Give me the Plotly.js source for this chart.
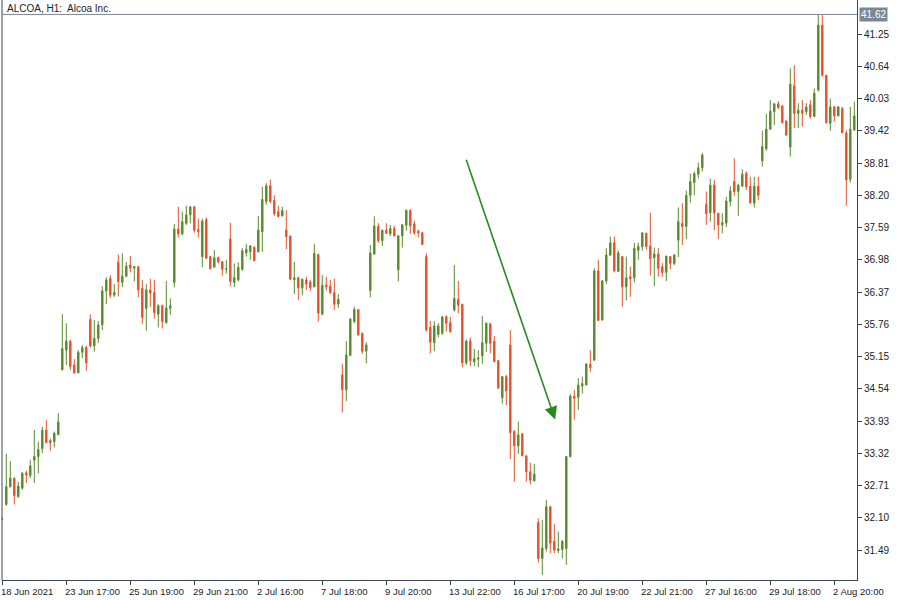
<!DOCTYPE html>
<html>
<head>
<meta charset="utf-8">
<script src="https://cdn.plot.ly/plotly-3.0.1.min.js"></script>
<style>html,body{margin:0;padding:0;background:#fff;}#chart{width:900px;height:600px;}</style>
</head>
<body>
<div id="chart"></div>
<script>
// OHLC values (H1 bars, Alcoa Inc.)
const opens = [32.08,32.35,32.69,32.85,32.50,32.66,32.95,32.90,33.19,33.26,33.41,33.76,33.56,33.54,33.67,
34.90,35.27,35.44,34.99,34.84,35.23,35.32,35.85,35.35,35.49,35.75,36.39,36.63,36.31,36.93,36.55,36.67,36.88,36.82,36.85,36.44,36.06,
36.41,36.36,35.95,36.11,35.79,36.06,36.55,37.56,37.47,37.67,37.83,37.98,37.55,37.04,37.74,37.04,36.84,37.02,36.94,36.80,37.37,36.55,36.60,36.80,37.11,37.13,37.21,37.13,37.51,38.08,38.38,38.10,37.89,37.81,37.54,
37.43,36.60,36.64,36.45,36.60,36.56,36.47,37.08,35.95,36.50,36.48,36.36,36.14,34.80,34.52,35.17,35.81,36.04,35.59,35.25,36.40,37.09,37.61,37.34,37.54,37.47,37.57,36.79,37.43,37.63,37.91,37.66,37.52,37.49,37.04,
35.70,35.41,35.57,35.59,35.90,35.79,36.03,36.23,36.14,35.03,35.44,35.05,35.10,35.16,35.40,35.77,35.44,35.07,34.37,34.77,35.37,33.73,33.46,33.69,33.27,32.97,32.80,32.01,31.33,31.52,32.31,31.65,31.48,31.50,31.52,
33.26,34.40,34.38,34.59,34.61,35.00,35.08,36.77,35.84,36.58,37.07,37.30,36.76,37.04,36.47,36.66,36.64,37.16,37.23,37.48,37.24,37.02,37.09,36.85,36.74,37.04,36.91,37.35,37.67,37.61,38.20,38.44,38.60,38.72,38.03,
37.87,38.39,37.86,37.64,37.67,38.08,38.46,38.27,38.37,38.61,38.37,38.05,38.37,38.85,39.08,39.45,39.78,39.93,39.89,39.60,39.11,40.27,39.75,39.81,39.78,39.91,39.69,40.19,41.42,40.47,39.56,39.87,39.70,39.84,39.38,38.50,39.43];
const highs = [32.10,33.31,33.17,32.86,32.78,32.97,32.99,33.19,33.76,33.54,33.82,33.95,33.60,33.73,34.08,
35.95,35.78,35.47,35.10,35.27,35.37,35.35,35.95,35.84,35.82,36.48,36.65,36.69,36.52,37.08,37.10,36.94,37.05,36.86,36.86,36.60,36.52,
36.62,36.60,36.14,36.13,36.58,36.25,37.66,37.98,37.89,38.00,38.00,38.00,37.76,37.76,37.78,37.05,37.16,37.04,36.96,36.98,37.68,36.91,36.93,37.20,37.28,37.26,37.24,37.81,38.36,38.43,38.50,38.20,38.00,37.98,37.92,
37.43,36.94,36.66,36.63,36.66,36.60,37.28,37.08,36.69,36.66,36.60,36.62,36.33,35.01,35.44,35.87,36.09,36.04,35.60,35.42,37.26,37.80,37.67,37.55,37.67,37.64,37.62,37.45,37.66,37.92,37.94,37.72,37.55,37.51,37.10,
35.82,35.82,35.78,35.92,35.93,35.90,36.88,36.58,36.14,35.47,35.51,35.29,35.27,35.92,35.79,35.78,35.54,35.08,34.77,34.80,35.65,33.76,33.92,33.69,33.29,33.14,33.12,32.09,32.06,32.44,32.31,31.98,31.84,31.68,33.26,
34.44,34.52,34.74,34.77,35.02,35.27,36.82,36.98,36.60,37.20,37.42,37.42,37.16,37.04,37.04,36.85,37.30,37.30,37.49,37.49,37.87,37.21,37.20,36.92,37.05,37.04,37.09,37.97,38.05,38.29,38.61,38.65,38.82,39.00,38.27,
38.51,38.49,37.86,37.86,38.17,38.37,38.90,38.42,38.69,38.65,38.55,38.55,38.55,39.42,39.74,40.00,39.94,39.98,39.91,39.62,40.60,40.66,39.94,40.00,39.94,40.00,40.22,41.62,41.62,40.47,40.03,39.89,39.89,39.87,39.43,39.87,39.97];
const lows = [32.05,32.33,32.67,32.35,32.48,32.63,32.76,32.85,32.76,32.94,33.32,33.52,33.37,33.43,33.67,
34.89,34.99,34.89,34.83,34.84,35.12,34.88,35.32,35.24,35.41,35.65,36.14,36.26,36.28,36.29,36.46,36.65,36.74,36.57,36.27,35.77,35.64,
36.09,35.87,35.70,35.68,35.77,35.94,36.46,37.40,37.44,37.64,37.67,37.49,37.40,36.84,37.00,36.80,36.84,36.91,36.68,36.72,36.48,36.46,36.57,36.77,37.04,36.98,36.96,37.12,37.13,38.02,38.05,37.81,37.78,37.80,37.18,
36.61,36.33,36.22,36.31,36.41,36.39,36.46,35.81,35.93,36.40,36.33,36.03,36.07,34.09,34.31,35.16,35.78,35.54,35.20,35.02,36.27,37.07,37.30,37.24,37.47,37.43,37.43,36.57,37.21,37.53,37.47,37.45,37.40,37.26,35.62,
35.21,35.25,35.51,35.56,35.62,35.60,36.00,35.97,34.95,34.99,34.97,34.97,34.95,35.01,35.24,35.21,35.05,34.55,34.26,34.23,33.21,32.78,33.31,33.27,32.78,32.73,32.78,31.25,31.02,31.46,31.43,31.43,31.43,31.33,31.21,
33.24,33.95,34.14,34.45,34.61,34.86,35.07,35.83,35.83,36.52,37.05,36.74,36.76,36.09,36.21,36.28,36.55,36.98,37.15,37.17,36.68,36.48,36.66,36.66,36.58,36.80,36.88,37.03,37.26,37.37,38.06,38.20,38.52,38.65,37.64,
37.70,37.54,37.37,37.48,37.60,37.99,38.19,37.81,38.36,38.30,38.03,37.97,38.11,38.74,39.04,39.45,39.53,39.83,39.56,39.32,38.93,39.47,39.47,39.50,39.72,39.65,39.69,40.16,40.44,39.56,39.42,39.59,39.70,39.38,38.00,38.44,39.43];
const closes = [32.08,32.69,32.85,32.52,32.70,32.94,32.91,33.08,33.26,33.39,33.75,33.52,33.52,33.70,33.91,
35.30,35.44,34.96,34.84,35.23,35.32,35.03,35.35,35.49,35.75,36.39,36.60,36.31,36.36,36.57,36.67,36.86,36.82,36.85,36.41,35.89,36.41,
36.35,35.98,36.11,35.81,36.07,36.11,37.56,37.47,37.70,37.83,37.98,37.54,37.51,37.71,37.01,36.81,37.02,36.94,36.80,36.81,36.57,36.64,36.84,37.15,37.18,37.24,36.96,37.54,38.12,38.38,38.08,37.85,37.80,37.91,37.42,
36.61,36.64,36.45,36.61,36.52,36.45,37.10,35.97,36.50,36.47,36.36,36.14,36.23,34.52,35.18,35.86,36.04,35.56,35.25,35.37,37.11,37.62,37.34,37.54,37.48,37.57,37.43,37.43,37.64,37.92,37.62,37.49,37.49,37.27,35.65,
35.42,35.73,35.73,35.90,35.78,35.62,36.25,36.12,35.03,35.44,35.07,35.11,35.12,35.41,35.78,35.40,35.05,34.55,34.77,34.50,33.71,33.46,33.67,33.27,32.97,32.81,32.93,31.33,31.53,32.31,31.62,31.49,31.51,31.65,33.26,
34.40,34.36,34.61,34.64,35.01,34.94,36.77,35.83,36.58,37.07,37.30,36.77,37.11,36.47,36.64,36.62,37.20,37.23,37.49,37.23,37.00,37.09,36.82,36.74,37.05,36.91,37.07,37.70,37.61,38.20,38.46,38.61,38.72,38.96,37.85,
38.39,37.87,37.64,37.68,38.09,38.28,38.27,38.39,38.60,38.36,38.06,38.37,38.20,39.12,39.45,39.79,39.93,39.86,39.57,39.34,40.30,39.75,39.81,39.75,39.87,39.69,40.13,41.42,40.47,39.57,39.87,39.70,39.87,39.38,38.49,39.45,39.70];

// Axis labels
const timeLabels = ['18 Jun 2021','23 Jun 17:00','25 Jun 19:00','29 Jun 21:00','2 Jul 16:00','7 Jul 18:00','9 Jul 20:00',
  '13 Jul 22:00','16 Jul 17:00','20 Jul 19:00','22 Jul 21:00','27 Jul 16:00','29 Jul 18:00','2 Aug 20:00'];
const labelEvery = 16;
const priceTicks = [31.49,32.10,32.71,33.32,33.93,34.54,35.15,35.76,36.37,36.98,37.59,38.20,38.81,39.42,40.03,40.64,41.25];
const lastPrice = 41.62;
// Trend arrow drawn on the chart: [bar index, price]
const arrowFrom = [115.85, 38.90];
const arrowTo = [138.2, 33.96];

const GREEN = '#5b8c2e', RED = '#e8522d', FRAME = '#3a4752', TXT = '#222';
const FONT = 'Liberation Sans, Arial';
const idx = opens.map((_, i) => i);
const tickIdx = timeLabels.map((_, k) => k * labelEvery);

const trace = {
  type: 'candlestick', x: idx, open: opens, high: highs, low: lows, close: closes,
  increasing: {line: {color: GREEN, width: 1}, fillcolor: GREEN},
  decreasing: {line: {color: RED, width: 1}, fillcolor: RED},
  whiskerwidth: 0, hoverinfo: 'skip', showlegend: false
};

const annotations = timeLabels.map((t, k) => ({
  text: t, x: tickIdx[k], xref: 'x', y: 0, yref: 'paper', xanchor: 'left', yanchor: 'top',
  yshift: -4, xshift: -3, showarrow: false, font: {family: FONT, size: 9.5, color: TXT}
}));
annotations.push({
  text: 'ALCOA, H1:  Alcoa Inc.', xref: 'paper', yref: 'paper', x: 0, y: 1, xanchor: 'left', yanchor: 'top',
  xshift: 3, yshift: -1, showarrow: false, font: {family: FONT, size: 10, color: TXT}
});
annotations.push({
  text: lastPrice.toFixed(2), xref: 'paper', yref: 'y', x: 1, y: lastPrice, xanchor: 'left', yanchor: 'middle',
  xshift: 2, showarrow: false, bgcolor: '#7a8894', borderpad: 1,
  font: {family: FONT, size: 10, color: '#ffffff'}
});
annotations.push({
  x: arrowTo[0], y: arrowTo[1], ax: arrowFrom[0], ay: arrowFrom[1], xref: 'x', yref: 'y', axref: 'x', ayref: 'y',
  showarrow: true, arrowhead: 2, arrowsize: 1.6, arrowwidth: 1.6, arrowcolor: '#2a8a22', text: ''
});

const layout = {
  width: 900, height: 600, paper_bgcolor: '#ffffff', plot_bgcolor: '#ffffff',
  margin: {l: 2, r: 43, t: 0, b: 20},
  showlegend: false,
  xaxis: {
    range: [-0.075, 213.675], rangeslider: {visible: false}, showgrid: false, zeroline: false,
    showline: true, linecolor: FRAME, linewidth: 1,
    tickvals: tickIdx, ticktext: tickIdx.map(() => ''), ticks: 'outside', ticklen: 4, tickcolor: FRAME
  },
  yaxis: {
    side: 'right', range: [30.923, 41.893], showgrid: false, zeroline: false,
    showline: true, linecolor: FRAME, linewidth: 1,
    tickvals: priceTicks, ticktext: priceTicks.map(v => v.toFixed(2)), ticks: 'outside', ticklen: 4, tickcolor: FRAME,
    tickfont: {family: FONT, size: 10, color: TXT}
  },
  shapes: [
    {type: 'line', xref: 'paper', yref: 'paper', x0: 0, x1: 0, y0: 0, y1: 1, line: {color: FRAME, width: 1}},
    {type: 'line', xref: 'paper', yref: 'y', x0: 0, x1: 1, y0: lastPrice, y1: lastPrice, line: {color: '#7a8894', width: 1}}
  ],
  annotations: annotations,
  boxgap: 0.5
};

Plotly.newPlot('chart', [trace], layout, {staticPlot: true, displayModeBar: false});
</script>
</body>
</html>
